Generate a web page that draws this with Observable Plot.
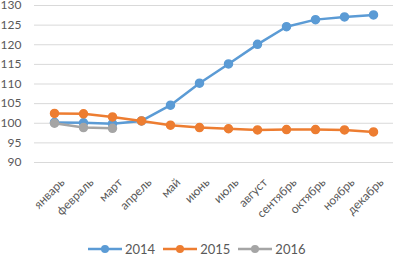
<!DOCTYPE html>
<html>
<head>
<meta charset="utf-8">
<script src="https://cdn.jsdelivr.net/npm/d3@7"></script>
<script src="https://cdn.jsdelivr.net/npm/@observablehq/plot@0.6"></script>
<style>
  html, body { margin: 0; padding: 0; background: #fff; }
  #wrap { position: relative; width: 393px; height: 255px; overflow: hidden; font-family: Lato, "Open Sans", sans-serif; }
  #legend { position: absolute; left: 88px; top: 240px; height: 17px; display: flex; align-items: center; font-size: 13px; color: #595959; }
  .item { display: flex; align-items: center; margin-right: 8px; }
  .item svg { margin-right: 3px; }
</style>
</head>
<body>
<div id="wrap"><div id="chart"></div><div id="legend"></div></div>
<script>
const months = ["январь","февраль","март","апрель","май","июнь","июль","август","сентябрь","октябрь","ноябрь","декабрь"];
const years = ["2014", "2015", "2016"];
const v2014 = [100.2, 100.1, 99.9, 100.6, 104.6, 110.2, 115.1, 120.1, 124.6, 126.4, 127.1, 127.6];
const v2015 = [102.5, 102.4, 101.6, 100.6, 99.5, 98.9, 98.6, 98.3, 98.4, 98.4, 98.3, 97.8];
const v2016 = [100.0, 98.9, 98.7];
const colors = ["#5B9BD5", "#ED7D31", "#A5A5A5"];
const yTicks = [90, 95, 100, 105, 110, 115, 120, 125, 130];

const seriesVals = [v2014, v2015, v2016];
const seriesMarks = [];
seriesVals.forEach((vals, i) => {
  const data = vals.map((v, j) => ({month: months[j], value: v}));
  seriesMarks.push(Plot.line(data, {x: "month", y: "value", stroke: colors[i], strokeWidth: 2.5}));
  seriesMarks.push(Plot.dot(data, {x: "month", y: "value", fill: colors[i], stroke: colors[i], r: 4}));
});

const chart = Plot.plot({
  width: 393,
  height: 241,
  marginTop: 5,
  marginBottom: 79,
  marginLeft: 34,
  marginRight: 0,
  style: {fontFamily: "Lato, 'Open Sans', sans-serif", fontSize: "12px", color: "#595959", background: "white"},
  x: {type: "point", domain: months, padding: 0.5, align: 0.5, label: null},
  y: {domain: [90, 130], label: null},
  marks: [
    Plot.gridY(yTicks, {stroke: "#D9D9D9", strokeOpacity: 1}),
    Plot.axisY(yTicks, {tickSize: 0, tickPadding: 13, label: null, fontSize: 12}),
    Plot.axisX({tickSize: 0, tickRotate: -45, tickPadding: 15, dx: 8, dy: 3, label: null, fontSize: 12}),
    ...seriesMarks
  ]
});
document.getElementById("chart").appendChild(chart);

const legend = document.getElementById("legend");
years.forEach((yr, i) => {
  const item = document.createElement("div");
  item.className = "item";
  item.innerHTML = `<svg width="34" height="10"><line x1="0" y1="5" x2="34" y2="5" stroke="${colors[i]}" stroke-width="2.5"/><circle cx="17" cy="5" r="4" fill="${colors[i]}"/></svg><span>${yr}</span>`;
  legend.appendChild(item);
});
</script>
</body>
</html>
